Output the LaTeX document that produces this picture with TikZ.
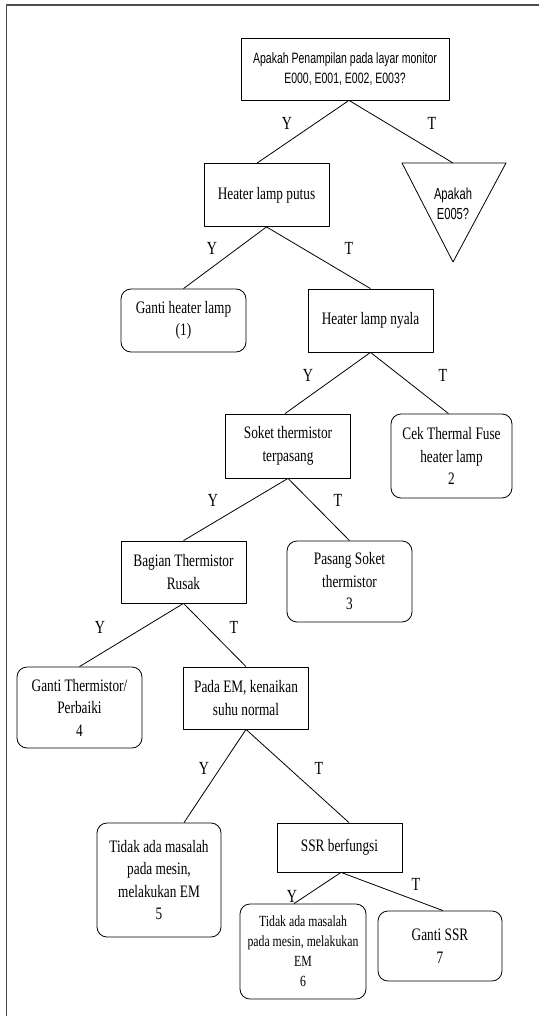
\documentclass[tikz,border=0pt]{standalone}
\usepackage{fontspec}
\setmainfont{Liberation Serif}
\newfontfamily\narrowserif[FakeStretch=0.76]{Liberation Serif}
\newfontfamily\narrowsans[FakeStretch=0.70]{Liberation Sans}
\tikzset{
  box/.style={draw, line width=0.8pt, minimum width=125pt, minimum height=63pt, inner sep=0pt,
    align=center, font=\narrowserif\fontsize{17.5}{22.5}\selectfont},
  endbox/.style={box, rounded corners=10pt},
  yt/.style={inner sep=0pt, font=\narrowserif\fontsize{18.5}{22}\selectfont},
  link/.style={line width=0.8pt},
}
\begin{document}
\begin{tikzpicture}[x=1pt, y=-1pt, line join=round]
\useasboundingbox (0,0) rectangle (539,1016);
% bingkai halaman
\draw[line width=1.6pt, black!70] (6.5,1016) -- (6.5,5) -- (539,5);

% kotak keputusan dan hasil
\node[box, minimum width=208pt, minimum height=62pt, font=\narrowsans\fontsize{15}{20.5}\selectfont] (cek) at (345,69) {Apakah Penampilan pada layar monitor\\E000, E001, E002, E003?};
\node[box] (putus) at (266.5,195) {Heater lamp putus};
\node[endbox] (gantilamp) at (183.5,320.5) {Ganti heater lamp\\(1)};
\node[box] (nyala) at (370.5,320.5) {Heater lamp nyala};
\node[box, minimum height=64pt] (soket) at (288,446) {Soket thermistor\\terpasang};
\node[endbox, minimum width=121pt, minimum height=84pt] (fuse) at (451.5,456) {Cek Thermal Fuse\\heater lamp\\2};
\node[box, minimum height=62pt] (rusak) at (183.5,572) {Bagian Thermistor\\Rusak};
\node[endbox, minimum height=81pt] (pasang) at (349.5,581.5) {Pasang Soket\\thermistor\\3};
\node[endbox, minimum height=81pt] (ganti) at (79.5,707.5) {Ganti Thermistor/\\Perbaiki\\4};
\node[box, minimum height=62pt] (suhu) at (246,698) {Pada EM, kenaikan\\suhu normal};
\node[endbox, minimum width=124pt, minimum height=114pt] (aman) at (159,880) {Tidak ada masalah\\pada mesin,\\melakukan EM\\5};
\node[box, minimum height=49pt] (ssr) at (339.5,847.5) {SSR berfungsi};
\node[endbox, minimum width=126pt, minimum height=95pt, font=\narrowserif\fontsize{15.5}{20}\selectfont] (amanb) at (303,951.5) {Tidak ada masalah\\pada mesin, melakukan\\EM\\6};
\node[endbox, minimum width=124pt, minimum height=70pt] (gantissr) at (440,946) {Ganti SSR\\7};

% segitiga E005
\draw[link] (402,163) -- (506,163) -- (453,262) -- cycle;
\coordinate (e005) at (453,163);
\node[inner sep=0pt, align=center, font=\narrowsans\fontsize{16}{20}\selectfont] (e005txt) at (453,204) {Apakah\\E005?};

% garis cabang
\draw[link] ([xshift=4pt]cek.south) -- ([xshift=-9.5pt]putus.north);
\draw[link] ([xshift=4pt]cek.south) -- (e005);
\draw[link] (putus.south) -- (gantilamp.north);
\draw[link] (putus.south) -- (nyala.north);
\draw[link] (nyala.south) -- ([xshift=-3pt]soket.north);
\draw[link] (nyala.south) -- ([xshift=-3pt]fuse.north);
\draw[link] (soket.south) -- (rusak.north);
\draw[link] (soket.south) -- (pasang.north);
\draw[link] (rusak.south) -- (ganti.north);
\draw[link] (rusak.south) -- (suhu.north);
\draw[link] (suhu.south) -- ([xshift=25pt]aman.north);
\draw[link] (suhu.south) -- ([xshift=9.5pt]ssr.north);
\draw[link] ([xshift=1.5pt]ssr.south) -- ([xshift=-9pt]amanb.north);
\draw[link] ([xshift=1.5pt]ssr.south) -- ([xshift=3pt]gantissr.north);

% label Y / T
\node[yt] (y1) at (287,123) {Y};
\node[yt] (t1) at (432,123) {T};
\node[yt] (y2) at (212,248) {Y};
\node[yt] (t2) at (349,248) {T};
\node[yt] (y3) at (308,375) {Y};
\node[yt] (t3) at (443,375) {T};
\node[yt] (y4) at (213,500) {Y};
\node[yt] (t4) at (338,500) {T};
\node[yt] (y5) at (100,627) {Y};
\node[yt] (t5) at (234,627) {T};
\node[yt] (y6) at (204,768) {Y};
\node[yt] (t6) at (319,768) {T};
\node[yt] (y7) at (292,896) {Y};
\node[yt] (t7) at (416,884) {T};
\end{tikzpicture}
\end{document}
